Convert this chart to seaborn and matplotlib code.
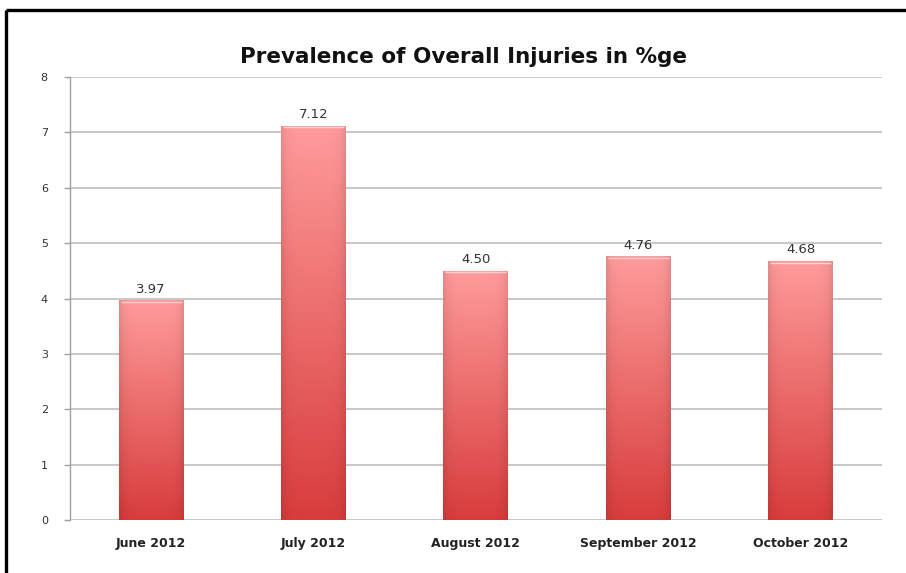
import numpy as np
import pandas as pd
import matplotlib
matplotlib.use("Agg")
import matplotlib.pyplot as plt
from matplotlib.lines import Line2D
import seaborn as sns

months = ["June 2012", "July 2012", "August 2012", "September 2012", "October 2012"]
prevalence = [3.97, 7.12, 4.50, 4.76, 4.68]
y_ticks = [0, 1, 2, 3, 4, 5, 6, 7, 8]
title = "Prevalence of Overall Injuries in %ge"

sns.set_theme(style="white")
plt.rcParams["font.family"] = ["DejaVu Sans"]

df = pd.DataFrame({"month": months, "value": prevalence})

fig = plt.figure(figsize=(9.06, 5.73), dpi=100)
ax = fig.add_axes([0.0773, 0.0925, 0.896, 0.7731])

sns.barplot(data=df, x="month", y="value", color="#e85a5a", width=0.4,
            ax=ax, zorder=3, linewidth=0)

# Vertical light-to-dark gradient with slightly shaded sides, clipped to each bar
top_col = np.array([255, 155, 155]) / 255.0
bot_col = np.array([216, 60, 60]) / 255.0
ny, nx = 200, 60
t = np.linspace(0, 1, ny)[:, None]          # 0 at bottom, 1 at top
base = bot_col[None, None, :] * (1 - t[..., None]) + top_col[None, None, :] * t[..., None]
xs = np.linspace(-1, 1, nx)
side = 1 - 0.10 * np.abs(xs) ** 6
grad = np.clip(base * side[None, :, None], 0, 1)

for patch in ax.patches:
    x0 = patch.get_x()
    w = patch.get_width()
    h = patch.get_height()
    im = ax.imshow(grad, extent=(x0, x0 + w, 0, h), origin="lower",
                   aspect="auto", zorder=4, interpolation="bilinear")
    im.set_clip_path(patch)
    # faint top highlight
    ax.plot([x0 + w * 0.03, x0 + w * 0.97], [h - 0.03, h - 0.03],
            color="#ffd0d0", lw=1.0, zorder=5, solid_capstyle="butt")
    ax.text(x0 + w / 2, h + 0.08, f"{h:.2f}", ha="center", va="bottom",
            fontsize=9.5, color="#333333", zorder=6)

ax.set_xlim(-0.5, len(months) - 0.5)
ax.set_ylim(0, 8)
ax.set_yticks(y_ticks)
ax.set_yticklabels([str(v) for v in y_ticks], fontsize=8, color="#333333")
ax.set_xticks(range(len(months)))
ax.set_xticklabels(months, fontsize=9, fontweight="bold", color="#222222")
ax.set_xlabel("")
ax.set_ylabel("")

ax.grid(axis="y", color="#c4c4c4", linewidth=1.3, zorder=0)
ax.grid(axis="x", visible=False)
ax.set_axisbelow(True)
for s in ["top", "right", "bottom"]:
    ax.spines[s].set_visible(False)
ax.spines["left"].set_color("#a0a0a0")
ax.spines["left"].set_linewidth(1.0)
ax.tick_params(axis="y", which="both", left=True, length=4, width=1.0,
               color="#a0a0a0", pad=12)
ax.tick_params(axis="x", length=0, pad=12)

fig.text(0.512, 0.90, title, ha="center", va="center", fontsize=15.5,
         fontweight="bold", color="#111111")

# Black frame along the top and left edges
fig.add_artist(Line2D([0.0066, 1.0], [0.9825, 0.9825], color="black", lw=2.4,
                      transform=fig.transFigure, solid_capstyle="butt"))
fig.add_artist(Line2D([0.0066, 0.0066], [0.0, 0.9825], color="black", lw=2.4,
                      transform=fig.transFigure, solid_capstyle="butt"))

fig.savefig("out.png", dpi=100)
